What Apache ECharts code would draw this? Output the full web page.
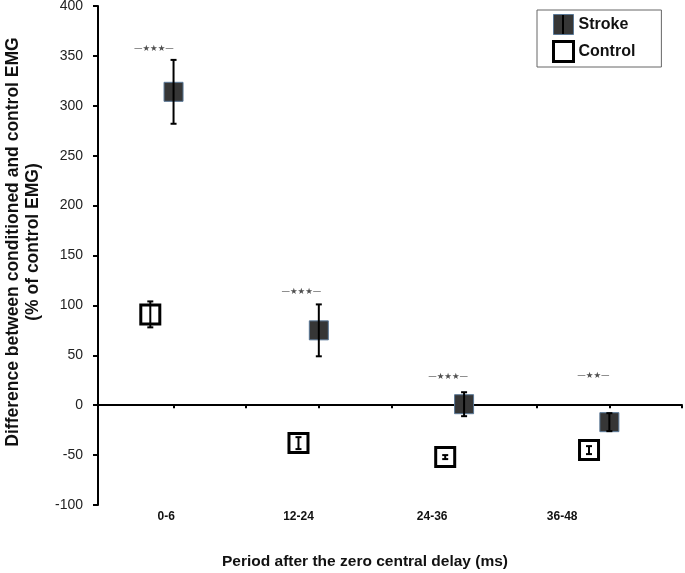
<!DOCTYPE html>
<html>
<head>
<meta charset="utf-8">
<script src="https://cdn.jsdelivr.net/npm/echarts@6/dist/echarts.min.js"></script>
<style>html,body{margin:0;padding:0;background:#fff}#c{width:685px;height:573px}</style>
</head>
<body>
<div id="c"></div>
<script>
// ---- data ----
const categories = ['0-6', '12-24', '24-36', '36-48'];
const categoryLabelX = [0.9, 2.72, 4.56, 6.35];
const xTickValues = [1, 2, 3, 4, 5, 6, 7, 8];
const strokeX = [1, 3, 5, 7];
const controlX = [0.68, 2.72, 4.74, 6.72];
const strokeMean = [314, 75, 1, -17];
const strokeErr = [32, 26, 12, 9];
const controlMean = [91, -38, -52, -45];
const controlErr = [13, 6, 2, 4];
const annotationText = ['—★★★—', '—★★★—', '—★★★—', '—★★—'];
const annotationX = [0.73, 2.76, 4.78, 6.78];
const annotationY = [357, 114, 28, 29];
const yTicks = { min: -100, max: 400, interval: 50 };

const FONT = 'Liberation Sans, Arial, sans-serif';

const strokePts = strokeX.map((x, i) => [x, strokeMean[i]]);
const controlPts = controlX.map((x, i) => [x, controlMean[i]]);
const strokeBars = strokeX.map((x, i) => [x, strokeMean[i] - strokeErr[i], strokeMean[i] + strokeErr[i]]);
const controlBars = controlX.map((x, i) => [x, controlMean[i] - controlErr[i], controlMean[i] + controlErr[i]]);
const annPts = annotationX.map((x, i) => [x, annotationY[i], annotationText[i]]);

function errRender(params, api) {
  const x = api.value(0), lo = api.value(1), hi = api.value(2);
  const p1 = api.coord([x, hi]), p2 = api.coord([x, lo]);
  const cw = 3;
  const st = { stroke: '#000', lineWidth: 2 };
  return { type: 'group', children: [
    { type: 'line', shape: { x1: p1[0], y1: p1[1], x2: p2[0], y2: p2[1] }, style: st },
    { type: 'line', shape: { x1: p1[0] - cw, y1: p1[1], x2: p1[0] + cw, y2: p1[1] }, style: st },
    { type: 'line', shape: { x1: p2[0] - cw, y1: p2[1], x2: p2[0] + cw, y2: p2[1] }, style: st }
  ]};
}

const chart = echarts.init(document.getElementById('c'), null, { renderer: 'canvas' });
chart.setOption({
  animation: false,
  backgroundColor: '#fff',
  grid: { left: 98, right: 3, top: 6, bottom: 68, containLabel: false, outerBoundsMode: 'none' },
  xAxis: [{
    type: 'value', min: -0.04, max: 8,
    axisLine: { onZero: true, lineStyle: { color: '#000', width: 2 } },
    axisTick: { show: true, customValues: xTickValues, length: 3, lineStyle: { color: '#000', width: 2 } },
    axisLabel: { show: false },
    splitLine: { show: false }
  }, {
    type: 'value', min: -0.04, max: 8, position: 'bottom',
    axisLine: { show: false, onZero: false },
    axisTick: { show: false },
    splitLine: { show: false },
    axisLabel: {
      show: true, customValues: categoryLabelX, margin: 6,
      fontFamily: FONT, fontWeight: 'bold', fontSize: 12, color: '#111',
      formatter: v => { const i = categoryLabelX.findIndex(c => Math.abs(c - v) < 1e-6); return i >= 0 ? categories[i] : ''; }
    }
  }],
  yAxis: {
    type: 'value', min: yTicks.min, max: yTicks.max, interval: yTicks.interval,
    axisLine: { show: true, onZero: false, lineStyle: { color: '#000', width: 2 } },
    axisTick: { show: true, length: 5, lineStyle: { color: '#000', width: 2 } },
    axisLabel: { fontFamily: FONT, fontSize: 14, color: '#222', margin: 15 },
    splitLine: { show: false }
  },
  legend: {
    orient: 'vertical', left: 537, top: 10,
    padding: [4, 26, 4, 15], itemGap: 5, itemWidth: 20, itemHeight: 20,
    borderColor: '#666', borderWidth: 1,
    textStyle: { fontFamily: FONT, fontWeight: 'bold', fontSize: 16, color: '#111' },
    data: [
      { name: 'Stroke', icon: 'rect', itemStyle: { color: '#363636', borderColor: '#5a7896', borderWidth: 1 } },
      { name: 'Control', icon: 'rect', itemStyle: { color: '#fff', borderColor: '#000', borderWidth: 3 } }
    ]
  },
  graphic: [
    { type: 'text', x: 23, y: 242, rotation: Math.PI / 2,
      style: { text: 'Difference between conditioned and control EMG\n(% of control EMG)', align: 'center', verticalAlign: 'middle', fontFamily: FONT, fontWeight: 'bold', fontSize: 17.5, lineHeight: 20, fill: '#111' } },
    { type: 'text', style: { text: 'Period after the zero central delay (ms)', x: 365, y: 562, align: 'center', verticalAlign: 'middle', fontFamily: FONT, fontWeight: 'bold', fontSize: 15.5, fill: '#111' } },
    { type: 'line', z: 100, shape: { x1: 563, y1: 15, x2: 563, y2: 34 }, style: { stroke: '#000', lineWidth: 2 } }
  ],
  series: [
    { name: 'Stroke', type: 'scatter', xAxisIndex: 0, symbol: 'rect', symbolSize: 19, z: 2,
      itemStyle: { color: '#363636', borderColor: '#5a7896', borderWidth: 1, opacity: 1 }, data: strokePts },
    { name: 'Control', type: 'scatter', xAxisIndex: 0, symbol: 'rect', symbolSize: 19, z: 2,
      itemStyle: { color: '#fff', borderColor: '#000', borderWidth: 3, opacity: 1 }, data: controlPts },
    { name: 'StrokeErr', type: 'custom', xAxisIndex: 0, renderItem: errRender, data: strokeBars, z: 3, silent: true },
    { name: 'ControlErr', type: 'custom', xAxisIndex: 0, renderItem: errRender, data: controlBars, z: 3, silent: true },
    { name: 'Annot', type: 'scatter', xAxisIndex: 0, symbolSize: 0, z: 4, silent: true, data: annPts,
      label: { show: true, position: 'inside', formatter: p => p.data[2], fontFamily: 'DejaVu Sans', fontSize: 8.5, color: '#222' } }
  ]
});
</script>
</body>
</html>
